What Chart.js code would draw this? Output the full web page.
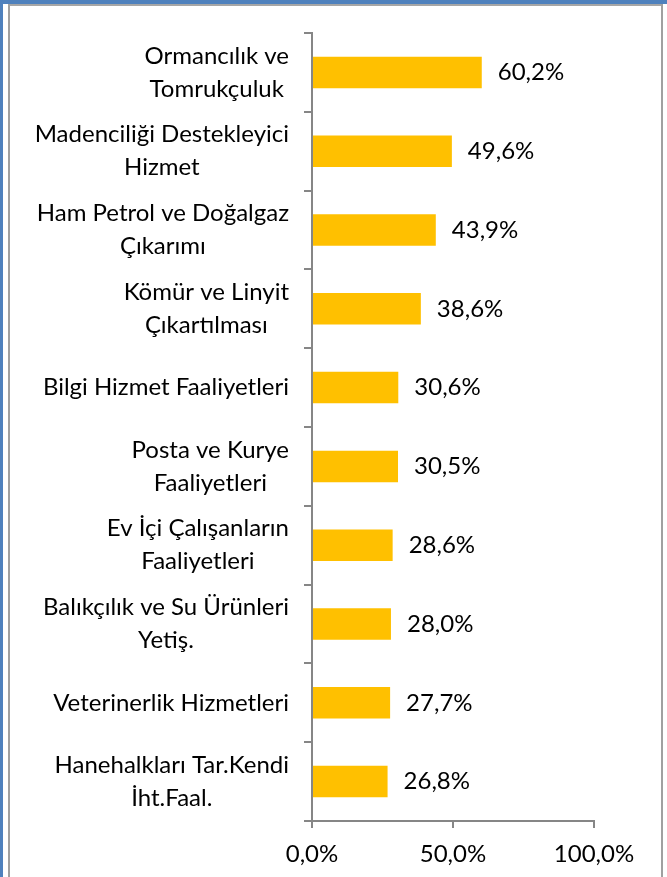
<!DOCTYPE html>
<html>
<head>
<meta charset="utf-8">
<script src="https://cdn.jsdelivr.net/npm/chart.js@4.4.1/dist/chart.umd.min.js"></script>
<style>
  html, body { margin: 0; padding: 0; background: #fff; }
  #wrap { position: relative; width: 667px; height: 877px; overflow: hidden; }
  #c { position: absolute; left: 0; top: 0; }
  .f { position: absolute; }
</style>
</head>
<body>
<div id="wrap">
  <canvas id="c" width="667" height="877"></canvas>
  <div class="f" style="left:0;top:0;width:667px;height:4px;background:#4F81BD"></div>
  <div class="f" style="left:0;top:0;width:3px;height:877px;background:#4F81BD"></div>
  <div class="f" style="left:8px;top:4px;width:654px;height:2px;background:#A6A6A6"></div>
  <div class="f" style="left:8px;top:4px;width:2px;height:873px;background:#A0A0A0"></div>
  <div class="f" style="left:661px;top:4px;width:2px;height:873px;background:#A0A0A0"></div>
</div>
<script>
const categories = [
  ["Ormancılık ve", "Tomrukçuluk"],
  ["Madenciliği Destekleyici", "Hizmet"],
  ["Ham Petrol ve Doğalgaz", "Çıkarımı"],
  ["Kömür ve Linyit", "Çıkartılması"],
  ["Bilgi Hizmet Faaliyetleri"],
  ["Posta ve Kurye", "Faaliyetleri"],
  ["Ev İçi Çalışanların", "Faaliyetleri"],
  ["Balıkçılık ve Su Ürünleri", "Yetiş."],
  ["Veterinerlik Hizmetleri"],
  ["Hanehalkları Tar.Kendi", "İht.Faal."]
];
const values = [60.2, 49.6, 43.9, 38.6, 30.6, 30.5, 28.6, 28.0, 27.7, 26.8];
const xTickValues = [0, 50, 100];

const FONT = "Lato, 'Open Sans', sans-serif";
const fmt = v => v.toFixed(1).replace('.', ',') + '%';

const labelPlugin = {
  id: 'labels',
  afterDraw(chart) {
    const ctx = chart.ctx;
    const ys = chart.scales.y;
    ctx.save();
    ctx.font = "24px " + FONT;
    ctx.fillStyle = "#000";
    ctx.textBaseline = "middle";
    ctx.textAlign = "center";
    const rightEdge = chart.chartArea.left - 23;
    categories.forEach((lines, i) => {
      const y = ys.getPixelForTick(i);
      const maxW = Math.max(...lines.map(l => ctx.measureText(l).width));
      const cx = rightEdge - maxW / 2;
      const lh = 33;
      lines.forEach((l, j) => {
        ctx.fillText(l, cx, y + (j - (lines.length - 1) / 2) * lh);
      });
    });
    // data labels
    const meta = chart.getDatasetMeta(0);
    ctx.textAlign = "left";
    meta.data.forEach((bar, i) => {
      ctx.fillText(fmt(values[i]), bar.x + 16, bar.y);
    });
    ctx.restore();
  }
};

new Chart(document.getElementById('c'), {
  type: 'bar',
  data: {
    labels: categories.map(c => c.join(' ')),
    datasets: [{
      data: values,
      backgroundColor: '#FFC000',
      borderWidth: 0,
      categoryPercentage: 1,
      barPercentage: 0.4
    }]
  },
  plugins: [labelPlugin],
  options: {
    indexAxis: 'y',
    responsive: false,
    animation: false,
    devicePixelRatio: 1,
    layout: { padding: { top: 33, right: 73, left: 0, bottom: 0 } },
    plugins: { legend: { display: false }, tooltip: { enabled: false } },
    scales: {
      y: {
        ticks: { display: false },
        grid: { drawOnChartArea: false, tickLength: 8, color: '#868686', lineWidth: 2, offset: true },
        border: { color: '#868686', width: 2 },
        afterFit(s) { s.width = 312; }
      },
      x: {
        min: 0, max: 100,
        afterBuildTicks(s) { s.ticks = xTickValues.map(v => ({ value: v })); },
        ticks: {
          color: '#000',
          font: { family: FONT, size: 24 },
          padding: 12,
          maxRotation: 0,
          callback: v => fmt(v)
        },
        grid: { drawOnChartArea: false, tickLength: 7, color: '#868686', lineWidth: 2 },
        border: { color: '#868686', width: 2 },
        afterFit(s) { s.height = 56; }
      }
    }
  }
});
</script>
</body>
</html>
